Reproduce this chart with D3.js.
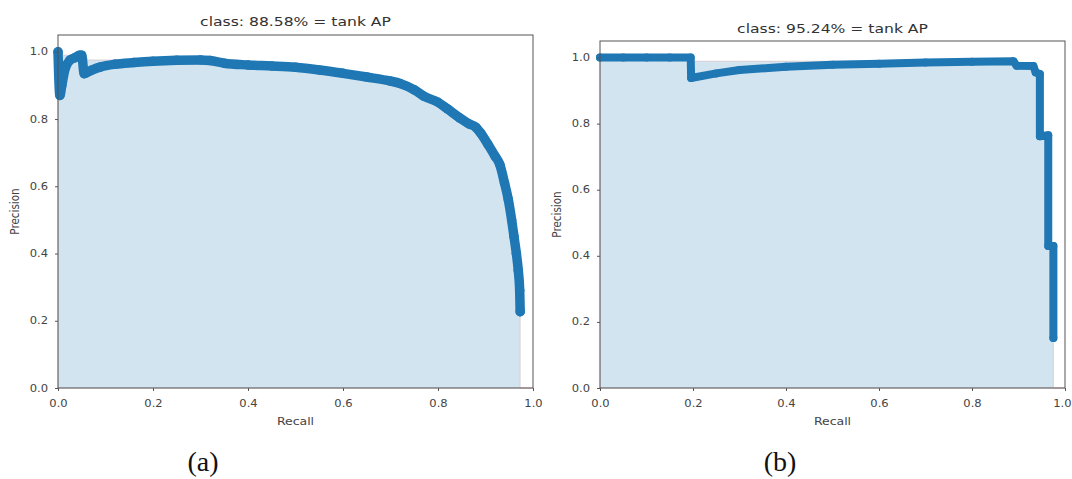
<!DOCTYPE html>
<html>
<head>
<meta charset="utf-8">
<script src="https://cdn.jsdelivr.net/npm/d3@7"></script>
<style>
  body { margin: 0; background: #fff; }
  svg { display: block; }
  .tick text { font-family: "DejaVu Sans", sans-serif; font-size: 9.6px; fill: #444; }
  .tick line { stroke: #555; }
  .lbl { font-family: "DejaVu Sans", sans-serif; font-size: 10.4px; fill: #444; }
  .ttl { font-family: "DejaVu Sans", sans-serif; font-size: 13px; fill: #333; }
  .cap { font-family: "Liberation Serif", "Times New Roman", serif; font-size: 28px; fill: #111; }
</style>
</head>
<body>
<script>
// Panel (a) values
var recallA = [0.0, 0.004, 0.008, 0.015, 0.025, 0.035, 0.045, 0.05, 0.055, 0.07, 0.09, 0.12,
  0.16, 0.20, 0.25, 0.30, 0.32, 0.35, 0.40, 0.45, 0.50, 0.55, 0.60, 0.65, 0.70, 0.72,
  0.75, 0.77, 0.80, 0.82, 0.846, 0.865, 0.88, 0.89, 0.905, 0.92, 0.93, 0.94, 0.948,
  0.955, 0.96, 0.965, 0.969, 0.972, 0.973];
var precisionA = [1.0, 0.87, 0.90, 0.95, 0.975, 0.982, 0.99, 0.99, 0.935, 0.945, 0.955, 0.963,
  0.968, 0.972, 0.975, 0.976, 0.974, 0.966, 0.961, 0.958, 0.954, 0.946, 0.936, 0.925, 0.913, 0.906,
  0.887, 0.868, 0.85, 0.83, 0.803, 0.786, 0.775, 0.758, 0.725, 0.69, 0.665, 0.61, 0.56,
  0.50, 0.45, 0.40, 0.35, 0.29, 0.227];

// Panel (b)
var recallB = [0.0, 0.05, 0.10, 0.15, 0.195, 0.196, 0.25, 0.30, 0.40, 0.50, 0.60, 0.70, 0.80,
  0.889, 0.896, 0.932, 0.937, 0.946, 0.946, 0.964, 0.964, 0.975, 0.975];
var precisionB = [1.0, 1.0, 1.0, 1.0, 1.0, 0.938, 0.952, 0.962, 0.972, 0.978, 0.981, 0.985, 0.987,
  0.989, 0.975, 0.974, 0.955, 0.95, 0.762, 0.765, 0.43, 0.43, 0.151];

var titles = ["class: 88.58% = tank AP", "class: 95.24% = tank AP"];
var captions = ["(a)", "(b)"];
var ticks = [0, 0.2, 0.4, 0.6, 0.8, 1.0];

var W = 1072, H = 479;
var SX = 1.2; // the source figure is stretched sideways
var svg = d3.select("body").append("svg").attr("width", W).attr("height", H);

var panels = [
  { rec: recallA, prec: precisionA, curve: d3.curveMonotoneX, lw: 9.5, left: 58, right: 533, top: 35, bottom: 388,
    title: titles[0], titleY: 26, cap: captions[0], capX: 203, ylabX: 15 },
  { rec: recallB, prec: precisionB, curve: d3.curveLinear, lw: 8, left: 600, right: 1065, top: 41, bottom: 388,
    title: titles[1], titleY: 33, cap: captions[1], capX: 780, ylabX: 557 }
];

panels.forEach(drawPanel);

function drawPanel(p) {
  var x = d3.scaleLinear().domain([0, 1]).range([p.left, p.right]);
  var y = d3.scaleLinear().domain([0, 1.05]).range([p.bottom, p.top]);
  var g = svg.append("g");

  // interpolated (monotone) precision, same as the VOC style AP computation
  var mrec = [0].concat(p.rec, [1]);
  var mpre = [0].concat(p.prec, [0]);
  for (var i = mpre.length - 2; i >= 0; i--) mpre[i] = Math.max(mpre[i], mpre[i + 1]);
  var areaX = mrec.slice(0, -1).concat([mrec[mrec.length - 2], mrec[mrec.length - 1]]);
  var areaY = mpre.slice(0, -1).concat([0, mpre[mpre.length - 1]]);
  var areaPts = areaX.map(function(v, k) { return [v, areaY[k]]; });

  g.append("path")
    .datum(areaPts)
    .attr("d", d3.area().x(function(d) { return x(d[0]); }).y0(y(0)).y1(function(d) { return y(d[1]); }))
    .attr("fill", "rgb(210,228,240)")
    .attr("stroke", "rgba(200,150,150,0.35)")
    .attr("stroke-width", 1);

  var pts = p.rec.map(function(v, k) { return [v, p.prec[k]]; });

  g.append("path")
    .datum(pts)
    .attr("d", d3.line().curve(p.curve).x(function(d) { return x(d[0]); }).y(function(d) { return y(d[1]); }))
    .attr("fill", "none")
    .attr("stroke", "#1f77b4")
    .attr("stroke-width", p.lw)
    .attr("stroke-linejoin", "round")
    .attr("stroke-linecap", "round");

  g.selectAll("circle.pt")
    .data(pts)
    .enter().append("circle")
    .attr("class", "pt")
    .attr("cx", function(d) { return x(d[0]); })
    .attr("cy", function(d) { return y(d[1]); })
    .attr("r", p.lw / 2)
    .attr("fill", "#1f77b4");

  // frame
  g.append("rect")
    .attr("x", p.left).attr("y", p.top)
    .attr("width", p.right - p.left).attr("height", p.bottom - p.top)
    .attr("fill", "none").attr("stroke", "#555").attr("stroke-width", 1);

  var xAxis = d3.axisBottom(x).tickValues(ticks).tickFormat(d3.format(".1f")).tickSize(3).tickPadding(9);
  var yAxis = d3.axisLeft(y).tickValues(ticks).tickFormat(d3.format(".1f")).tickSize(3).tickPadding(5.3);

  g.append("g").attr("transform", "translate(0," + p.bottom + ")").call(xAxis)
    .call(function(s) {
      s.select(".domain").remove();
      s.selectAll(".tick text").attr("transform", "scale(" + SX + ",1)");
      // keep the last label inside the page
      s.selectAll(".tick text").filter(function(d) { return d === 1 && x(1) + 12 > W; })
        .attr("text-anchor", "end").attr("x", (W - 1 - x(1)) / SX);
    });
  g.append("g").attr("transform", "translate(" + p.left + ",0)").call(yAxis)
    .call(function(s) {
      s.select(".domain").remove();
      s.selectAll(".tick text").attr("transform", "scale(" + SX + ",1)");
    });

  g.append("text").attr("class", "ttl")
    .attr("transform", "translate(" + ((p.left + p.right) / 2) + "," + p.titleY + ") scale(" + SX + ",1)")
    .attr("text-anchor", "middle").text(p.title);

  g.append("text").attr("class", "lbl")
    .attr("transform", "translate(" + ((p.left + p.right) / 2) + ",425) scale(" + SX + ",1)")
    .attr("text-anchor", "middle").text("Recall");

  g.append("text").attr("class", "lbl")
    .attr("transform", "translate(" + (p.ylabX + 4) + "," + ((p.top + p.bottom) / 2) + ") scale(" + SX + ",1) rotate(-90)")
    .attr("text-anchor", "middle").text("Precision");

  g.append("text").attr("class", "cap")
    .attr("x", p.capX).attr("y", 471)
    .attr("text-anchor", "middle").text(p.cap);
}
</script>
</body>
</html>
